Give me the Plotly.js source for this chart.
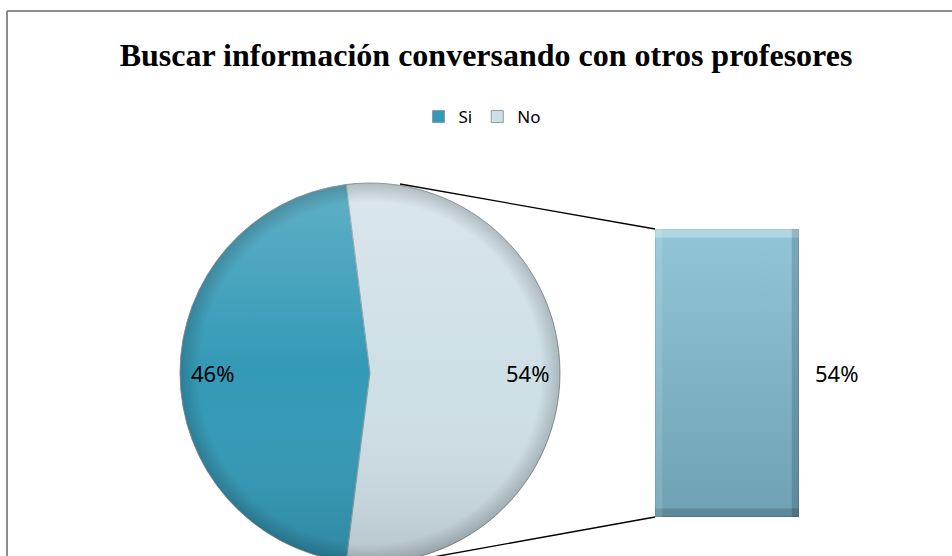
<!DOCTYPE html>
<html>
<head>
<meta charset="utf-8">
<script src="https://cdn.plot.ly/plotly-3.0.1.min.js"></script>
<style>
  html, body { margin: 0; padding: 0; overflow: hidden; background: #fff; }
  #chart { width: 952px; height: 580px; }
</style>
</head>
<body>
<div id="chart"></div>
<script>
  // data
  var categories = ['Si', 'No'];
  var shares = [46, 54];
  var sliceColors = ['#3399b6', '#cfdfe6'];
  var barValues = [54];

  var W = 952, H = 580;
  // pie box in pixels
  var pieLeft = 180, pieRight = 560, pieTop = 183, pieBottom = 563;
  var cx = (pieLeft + pieRight) / 2, cy = (pieTop + pieBottom) / 2, r = (pieRight - pieLeft) / 2;

  var total = shares.reduce(function(a, b) { return a + b; }, 0);
  var degs = shares.map(function(v) { return v / total * 360; });
  // Si centred on the left, so the split slice (No) faces the bar on the right
  var rotation = 270 - degs[0] / 2 - 360;

  function px(x) { return x / W; }
  function py(y) { return 1 - y / H; }

  var pie = {
    type: 'pie',
    labels: categories,
    values: shares,
    sort: false,
    direction: 'clockwise',
    rotation: rotation,
    textinfo: 'none',
    hoverinfo: 'label+percent',
    marker: { colors: sliceColors, line: { color: '#8a9ca3', width: 1 } },
    domain: { x: [px(pieLeft), px(pieRight)], y: [py(pieBottom), py(pieTop)] },
    showlegend: true
  };

  var bar = {
    type: 'bar',
    x: [0],
    y: barValues,
    width: [1],
    marker: { color: '#7fbcd1', line: { color: '#5f93a6', width: 1 } },
    xaxis: 'x',
    yaxis: 'y',
    showlegend: false,
    hoverinfo: 'y'
  };

  // percentage labels on the pie
  var annotations = [];
  var start = rotation;
  for (var i = 0; i < shares.length; i++) {
    var mid = start + degs[i] / 2;
    var a = mid * Math.PI / 180;
    annotations.push({
      xref: 'paper', yref: 'paper',
      x: px(cx + 0.83 * r * Math.sin(a)),
      y: py(cy - 0.83 * r * Math.cos(a)),
      xanchor: 'center', yanchor: 'middle',
      text: Math.round(shares[i] / total * 100) + '%',
      showarrow: false,
      font: { family: 'Noto Sans', size: 22, color: '#000' }
    });
    start += degs[i];
  }
  annotations.push({
    xref: 'x', yref: 'y',
    x: 0.5, y: barValues[0] / 2,
    xanchor: 'left', yanchor: 'middle', xshift: 14,
    text: barValues[0] + '%',
    showarrow: false,
    font: { family: 'Noto Sans', size: 22, color: '#000' }
  });

  var barLeft = 655, barRight = 799, barTop = 229, barBottom = 517;

  // soft shading overlays, like the office 3D look
  var pieShade = 'data:image/svg+xml;utf8,' + encodeURIComponent(
    '<svg xmlns="http://www.w3.org/2000/svg" width="100" height="100" viewBox="0 0 100 100">' +
    '<defs><linearGradient id="g" x1="0" y1="0" x2="0" y2="1">' +
    '<stop offset="0" stop-color="#fff" stop-opacity="0.22"/>' +
    '<stop offset="0.5" stop-color="#fff" stop-opacity="0"/>' +
    '<stop offset="1" stop-color="#000" stop-opacity="0.12"/></linearGradient>' +
    '<radialGradient id="e" cx="0.5" cy="0.5" r="0.5">' +
    '<stop offset="0.9" stop-color="#000" stop-opacity="0"/>' +
    '<stop offset="1" stop-color="#000" stop-opacity="0.18"/></radialGradient></defs>' +
    '<circle cx="50" cy="50" r="50" fill="url(#g)"/>' +
    '<circle cx="50" cy="50" r="50" fill="url(#e)"/></svg>');
  var barShade = 'data:image/svg+xml;utf8,' + encodeURIComponent(
    '<svg xmlns="http://www.w3.org/2000/svg" width="100" height="200" viewBox="0 0 100 200" preserveAspectRatio="none">' +
    '<defs><linearGradient id="g" x1="0" y1="0" x2="0" y2="1">' +
    '<stop offset="0" stop-color="#fff" stop-opacity="0.14"/>' +
    '<stop offset="1" stop-color="#000" stop-opacity="0.14"/></linearGradient></defs>' +
    '<rect x="0" y="0" width="100" height="200" fill="url(#g)"/>' +
    '<rect x="0" y="0" width="100" height="6" fill="#fff" fill-opacity="0.3"/>' +
    '<rect x="0" y="194" width="100" height="6" fill="#000" fill-opacity="0.15"/>' +
    '<rect x="0" y="0" width="5" height="200" fill="#fff" fill-opacity="0.12"/>' +
    '<rect x="95" y="0" width="5" height="200" fill="#000" fill-opacity="0.15"/></svg>');

  var layout = {
    width: W,
    height: H,
    margin: { l: 0, r: 0, t: 0, b: 0 },
    paper_bgcolor: '#fff',
    plot_bgcolor: 'rgba(0,0,0,0)',
    title: {
      text: '<b>Buscar información conversando con otros profesores</b>',
      font: { family: 'Liberation Serif', size: 32, color: '#000' },
      x: 486 / W, xanchor: 'center',
      y: 1 - 55 / H, yanchor: 'middle'
    },
    legend: {
      orientation: 'h',
      x: 482 / W, xanchor: 'center',
      y: 1 - 117 / H, yanchor: 'middle',
      font: { family: 'Noto Sans', size: 17, color: '#000' },
      itemwidth: 30,
      traceorder: 'normal'
    },
    xaxis: {
      domain: [px(barLeft), px(barRight)],
      range: [-0.5, 0.5],
      visible: false,
      fixedrange: true
    },
    yaxis: {
      domain: [py(barBottom), py(barTop)],
      range: [0, barValues[0]],
      visible: false,
      fixedrange: true
    },
    images: [
      { source: pieShade, xref: 'paper', yref: 'paper', x: px(pieLeft), y: py(pieTop),
        sizex: px(pieRight) - px(pieLeft), sizey: py(pieTop) - py(pieBottom),
        sizing: 'stretch', xanchor: 'left', yanchor: 'top', layer: 'above' },
      { source: barShade, xref: 'x', yref: 'y', x: -0.5, y: barValues[0], sizex: 1, sizey: barValues[0],
        sizing: 'stretch', xanchor: 'left', yanchor: 'top', layer: 'above' }
    ],
    annotations: annotations,
    shapes: [
      // connector lines pie -> bar
      { type: 'line', xref: 'paper', yref: 'paper', x0: px(400), y0: py(184), x1: px(barLeft), y1: py(barTop), line: { color: '#000', width: 1.3 } },
      { type: 'line', xref: 'paper', yref: 'paper', x0: px(400), y0: py(563), x1: px(barLeft), y1: py(barBottom), line: { color: '#000', width: 1.3 } },
      // chart frame
      { type: 'line', xref: 'paper', yref: 'paper', x0: px(7), y0: py(11), x1: 1, y1: py(11), line: { color: '#8c8c8c', width: 2 } },
      { type: 'line', xref: 'paper', yref: 'paper', x0: px(7), y0: py(11), x1: px(7), y1: 0, line: { color: '#8c8c8c', width: 2 } }
    ]
  };

  Plotly.newPlot('chart', [pie, bar], layout, { displayModeBar: false, staticPlot: true });
</script>
</body>
</html>
